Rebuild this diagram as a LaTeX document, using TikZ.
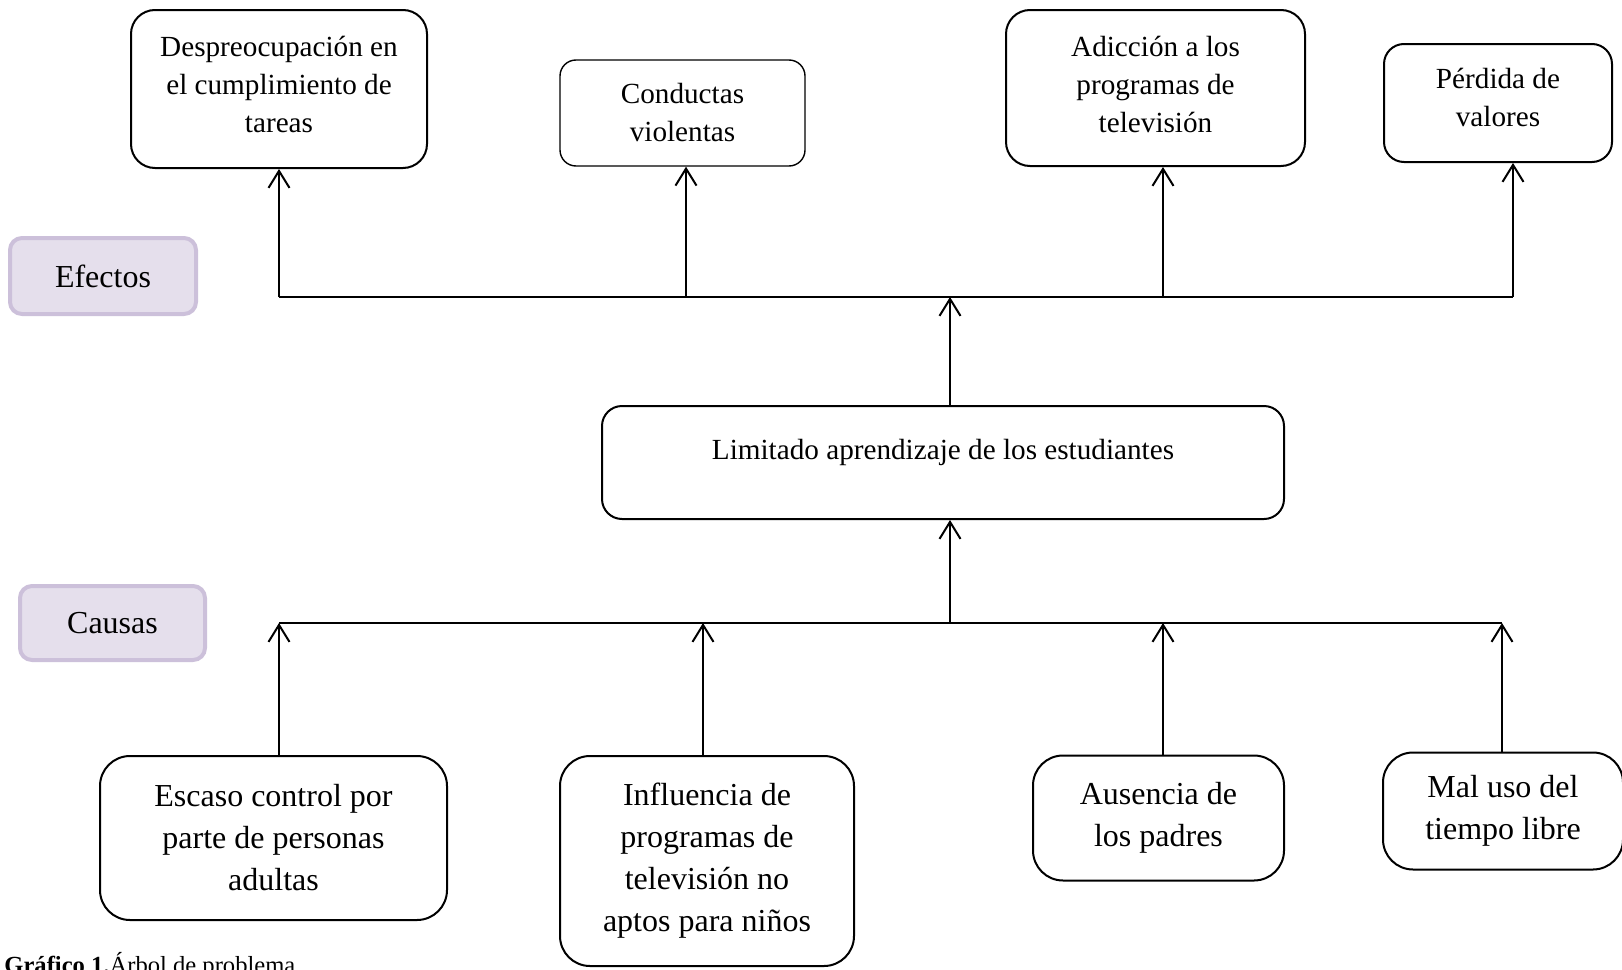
\documentclass[tikz,border=0pt]{standalone}
\usepackage{fontspec}
\setmainfont{Liberation Serif}
\usetikzlibrary{arrows.meta}
\definecolor{lavfill}{HTML}{E5DFEC}
\definecolor{lavline}{HTML}{CCC0DA}
\newcommand\topfont{\fontsize{14.6pt}{19pt}\selectfont}
\newcommand\causefont{\fontsize{16pt}{21pt}\selectfont}
\newcommand\tagfont{\fontsize{16pt}{19pt}\selectfont}
\newcommand\capfont{\fontsize{12.3pt}{14pt}\selectfont}
\begin{document}
\begin{tikzpicture}[x=0.5pt,y=-0.5pt,
  effbox/.style={draw, line width=1pt, rounded corners=12pt, inner sep=0pt},
  thinbox/.style={effbox, line width=0.7pt, rounded corners=8pt},
  efftext/.style={align=center, inner sep=0pt, font=\topfont},
  causebox/.style={draw, line width=1pt, rounded corners=15pt, align=center, inner sep=0pt, font=\causefont},
  tagbox/.style={draw=lavline, fill=lavfill, line width=2pt, rounded corners=6pt, inner sep=0pt, font=\tagfont},
  conn/.style={line width=1pt},
  arr/.style={line width=1pt, -{Straight Barb[length=8.5pt,width=10.5pt,line width=1pt]}}
]
\useasboundingbox (0,0) rectangle (1622,969);
\fill[white] (0,0) rectangle (1622,969);

% effects
\node[effbox, minimum width=148pt, minimum height=79pt] (e1) at (279,89) {};
\node[efftext] (e1t) at (279,84.5) {Despreocupación en\\el cumplimiento de\\tareas};
\node[thinbox, minimum width=122.5pt, minimum height=53pt] (e2) at (682.5,113) {};
\node[efftext] (e2t) at (682.5,112.5) {Conductas\\violentas};
\node[effbox, minimum width=149.5pt, minimum height=78pt] (e3) at (1155.5,88) {};
\node[efftext] (e3t) at (1155.5,84) {Adicción a los\\programas de\\televisión};
\node[effbox, minimum width=114pt, minimum height=59pt, rounded corners=10pt] (e4) at (1498,103) {};
\node[efftext] (e4t) at (1498,97) {Pérdida de\\valores};

% tags
\node[tagbox, minimum width=93pt, minimum height=38pt] (ef) at (103,276) {Efectos};
\node[tagbox, minimum width=92.5pt, minimum height=37pt] (ca) at (112.5,623) {Causas};

% central problem
\node[draw, line width=1pt, rounded corners=10pt, minimum width=341pt, minimum height=56.5pt, inner sep=0pt] (lim) at (943,462.5) {};
\node[font=\topfont, inner sep=0pt] (limtxt) at (943,452) {Limitado aprendizaje de los estudiantes};

% causes
\node[causebox, minimum width=173.5pt, minimum height=82pt] (c1) at (273.5,838) {Escaso control por\\parte de personas\\adultas};
\node[causebox, minimum width=147pt, minimum height=105pt] (c2) at (707,861) {Influencia de\\programas de\\televisión no\\aptos para niños};
\node[causebox, minimum width=125.5pt, minimum height=62.5pt] (c3) at (1158.5,818) {Ausencia de\\los padres};
\node[causebox, minimum width=120pt, minimum height=58.5pt] (c4) at (1503,811) {Mal uso del\\tiempo libre};

% effects connectors
\coordinate (t1) at (279,297);
\coordinate (t2) at (686,297);
\coordinate (t3) at (1163,297);
\coordinate (t4) at (1513,297);
\coordinate (tm) at (950,297);
\draw[conn] (t1) -- (t4);
\draw[arr] (t1) -- (t1 |- e1.south);
\draw[arr] (t2) -- (t2 |- e2.south);
\draw[arr] (t3) -- (t3 |- e3.south);
\draw[arr] (t4) -- (t4 |- e4.south);
\draw[arr] (tm |- lim.north) -- (tm);

% causes connectors
\coordinate (b1) at (279,623);
\coordinate (b2) at (703,623);
\coordinate (b3) at (1163,623);
\coordinate (b4) at (1502,623);
\coordinate (bm) at (950,623);
\draw[conn] (b1) -- (b4);
\draw[arr] (bm) -- (bm |- lim.south);
\draw[arr] (b1 |- c1.north) -- (b1);
\draw[arr] (b2 |- c2.north) -- (b2);
\draw[arr] (b3 |- c3.north) -- (b3);
\draw[arr] (b4 |- c4.north) -- (b4);

% caption
\node[anchor=base west, font=\capfont, inner sep=0pt] (cap) at (4,973) {\textbf{Gráfico 1.}Árbol de problema};
\end{tikzpicture}
\end{document}
